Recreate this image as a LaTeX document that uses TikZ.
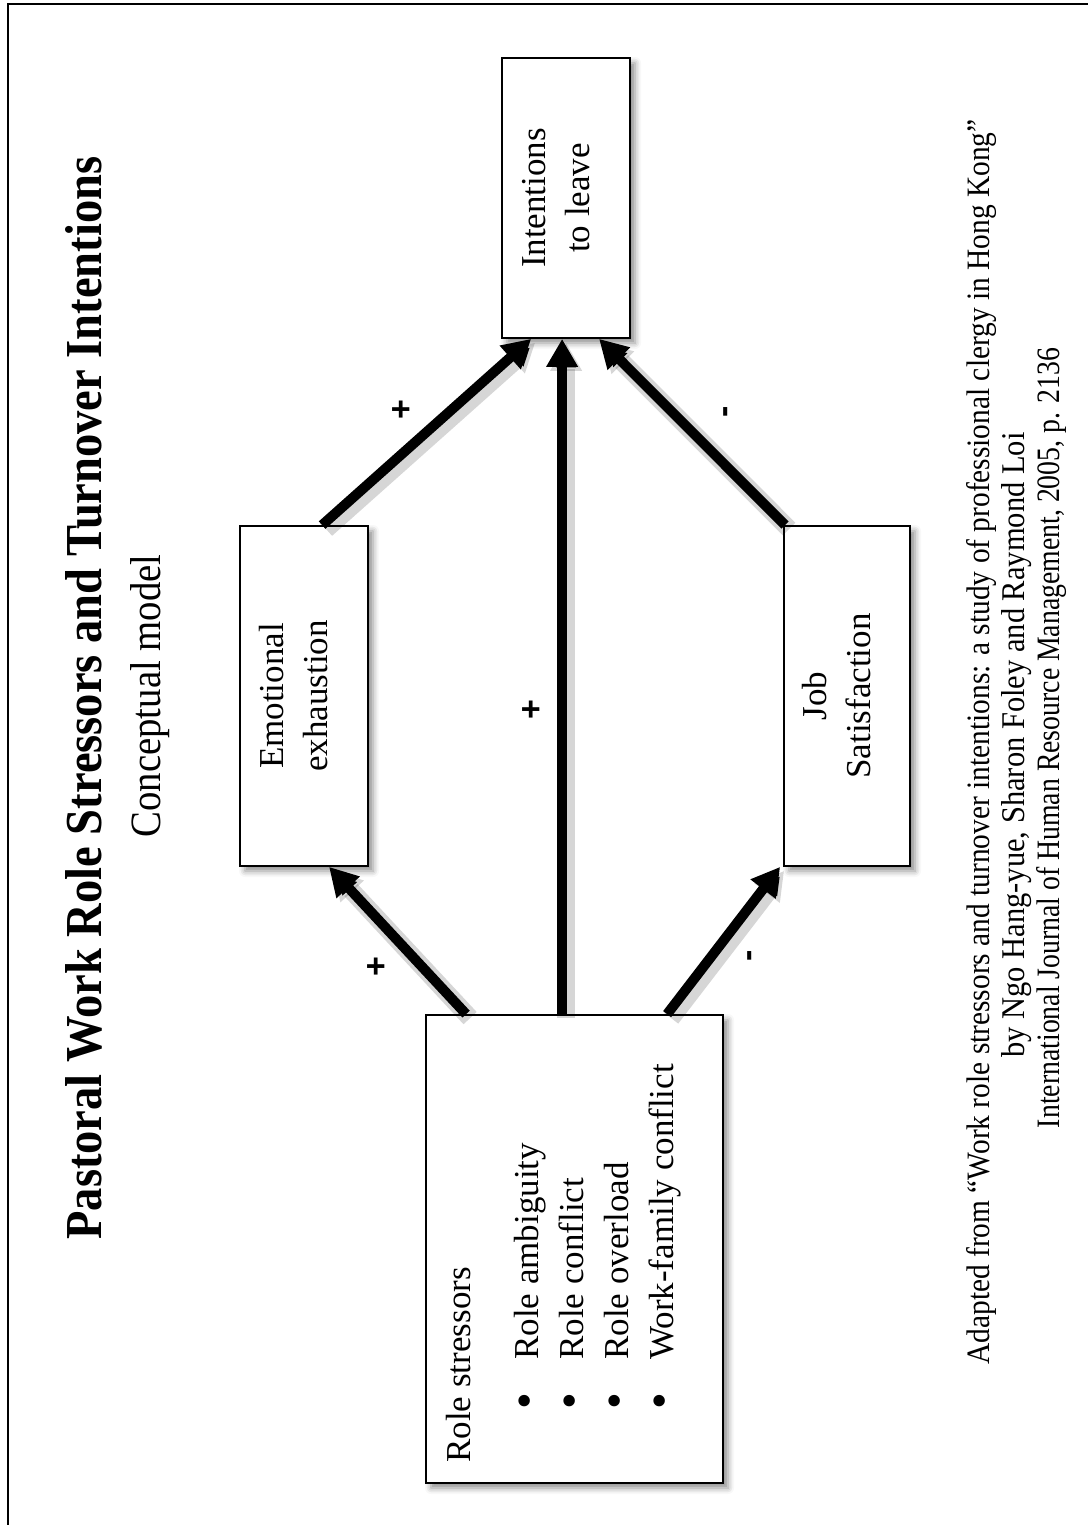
\documentclass[tikz,border=0pt]{standalone}
\usepackage{fontspec}
\usepackage{graphicx}
\setmainfont{Liberation Serif}
\newfontfamily\signfont{Liberation Sans}
\usetikzlibrary{arrows.meta,calc,shadows.blur}

\begin{document}
\begin{tikzpicture}[x=0.5pt,y=-0.5pt,
  box/.style={draw=black, line width=0.9pt, fill=white, inner sep=0pt,
    blur shadow={shadow xshift=2.5pt, shadow yshift=-2.5pt,
      shadow blur radius=3pt, shadow opacity=45}},
  boxtext/.style={rotate=90, font=\fontsize{17.5pt}{22pt}\selectfont,
    align=center, inner sep=0pt},
  listline/.style={rotate=90, anchor=base west, inner sep=0pt,
    font=\fontsize{17.5pt}{22pt}\selectfont},
  rotline/.style={rotate=90, anchor=base, inner sep=0pt},
  link/.style={line width=5pt, -{Triangle[length=14pt,width=15pt]},
    preaction={draw=black, draw opacity=0.16, line width=9pt,
      transform canvas={shift={(2pt,-2pt)}}}},
  sign/.style={rotate=90, inner sep=0pt,
    font=\signfont\bfseries\fontsize{17pt}{17pt}\selectfont},
]
\useasboundingbox (0,0) rectangle (1088,1525);

% page frame (left and top rules)
\draw[line width=1pt] (8,1525) -- (8,4) -- (1088,4);

% title and subtitle
\node[rotline] (title) at (101,698)
  {\resizebox{541.5pt}{18pt}{\bfseries Pastoral Work Role Stressors and Turnover Intentions}};
\node[rotline] (subtitle) at (160,696)
  {\resizebox{141.5pt}{15pt}{Conceptual model}};

% boxes
\node[box, minimum width=64pt, minimum height=140pt] (int) at (566,198) {};
\node[box, minimum width=64pt, minimum height=170pt] (ee) at (304,696) {};
\node[box, minimum width=63pt, minimum height=170pt] (js) at (847,696) {};
\node[box, minimum width=148.5pt, minimum height=234pt] (rs) at (574.5,1249) {};

% box texts
\node[boxtext] (inttext) at ($(int.center)+(-10,0)$) {Intentions\\to leave};
\node[boxtext] (eetext) at ($(ee.center)+(-10,0)$) {Emotional\\exhaustion};
\node[boxtext] (jstext) at ($(js.center)+(-10,0)$) {Job\\Satisfaction};

\newcommand{\listdot}{\makebox[25pt][l]{\raisebox{-1.2pt}{\fontsize{24pt}{24pt}\selectfont\textbullet}}}
\node[listline] (rshead) at (470,1463) {Role stressors};
\node[listline] (item1) at (538,1410) {\listdot Role ambiguity};
\node[listline] (item2) at (583,1410) {\listdot Role conflict};
\node[listline] (item3) at (628,1410) {\listdot Role overload};
\node[listline] (item4) at (673,1410) {\listdot Work-family conflict};

% connectors
\draw[link] ($(rs.north west)+(41,0)$) -- ($(ee.south west)+(90,0)$);
\draw[link] ($(rs.north west)+(137,0)$) -- ($(int.south west)+(61,0)$);
\draw[link] ($(rs.north west)+(242,0)$) -- ($(js.south west)+(-3,0)$);
\draw[link] ($(ee.north west)+(83,0)$) -- ($(int.south west)+(30,0)$);
\draw[link] ($(js.north west)+(2,0)$) -- ($(int.south west)+(98,0)$);

% signs of the effects
\node[sign] (s1) at (403,410) {+};
\node[sign] (s2) at (729,412) {-};
\node[sign] (s3) at (533,710) {+};
\node[sign] (s4) at (378,967) {+};
\node[sign] (s5) at (753,956) {-};

% source note
\node[rotline] (src1) at (989,742)
  {\resizebox{622.5pt}{11.5pt}{Adapted from “Work role stressors and turnover intentions: a study of professional clergy in Hong Kong”}};
\node[rotline] (src2) at (1024,745)
  {\resizebox{312.5pt}{11.5pt}{by Ngo Hang-yue, Sharon Foley and Raymond Loi}};
\node[rotline] (src3) at (1059,738)
  {\resizebox{390pt}{11.5pt}{International Journal of Human Resource Management, 2005, p. 2136}};
\end{tikzpicture}
\end{document}
